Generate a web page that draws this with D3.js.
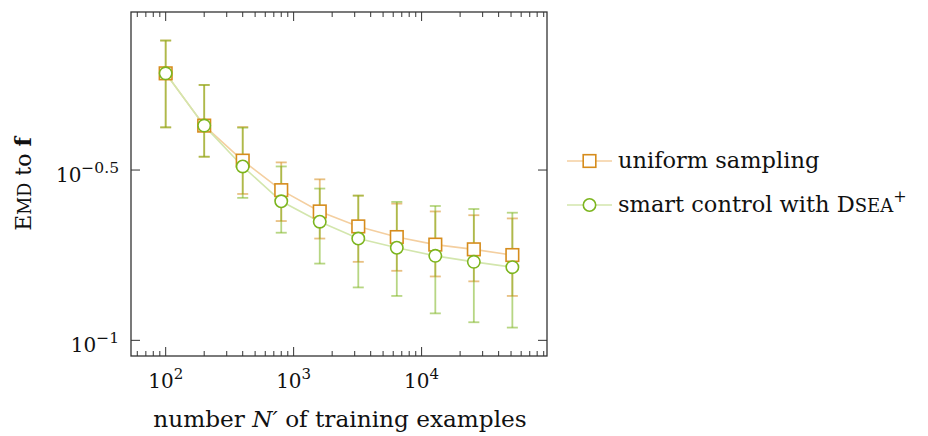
<!DOCTYPE html>
<html>
<head>
<meta charset="utf-8">
<script src="https://cdn.jsdelivr.net/npm/d3@7"></script>
<style>
  html, body { margin: 0; padding: 0; background: #fff; }
  svg { display: block; }
  text { font-family: "DejaVu Serif", "Liberation Serif", serif; fill: #111; }
</style>
</head>
<body>
<svg id="chart" width="928" height="436"></svg>
<script>
// Training set sizes N'
const nValues = [100, 200, 400, 800, 1600, 3200, 6400, 12800, 25600, 51200];

// EMD to f, uniform sampling: mean and error-bar bounds
const uniformMean  = [0.608, 0.427, 0.337, 0.276, 0.239, 0.216, 0.201, 0.191, 0.185, 0.178];
const uniformUpper = [0.759, 0.562, 0.423, 0.333, 0.297, 0.266, 0.252, 0.239, 0.233, 0.228];
const uniformLower = [0.422, 0.346, 0.269, 0.224, 0.199, 0.170, 0.160, 0.154, 0.149, 0.135];

// EMD to f, smart control with DSEA+: mean and error-bar bounds
const smartMean  = [0.608, 0.427, 0.324, 0.256, 0.223, 0.199, 0.187, 0.177, 0.170, 0.164];
const smartUpper = [0.759, 0.562, 0.421, 0.324, 0.279, 0.266, 0.255, 0.248, 0.243, 0.237];
const smartLower = [0.422, 0.346, 0.262, 0.207, 0.168, 0.143, 0.135, 0.120, 0.113, 0.109];

// Axis ticks (as exponents of ten)
const xTickExps = [2, 3, 4];
const yTickExps = ["-1", "-0.5"];
const yTickVals = [0.1, Math.pow(10, -0.5)];

const seriesNames = ["uniform sampling", "smart control with DSEA"];

const orange = "#d68c1c";
const green = "#7cb51e";

const svg = d3.select("#chart");
const plotL = 131, plotR = 547, plotT = 12, plotB = 356;

const x = d3.scaleLog().domain([Math.pow(10, 1.729), Math.pow(10, 4.980)]).range([plotL, plotR]);
const y = d3.scaleLog().domain([Math.pow(10, -1.046), Math.pow(10, -0.036)]).range([plotB, plotT]);

// small caps: first letter full size, the rest as reduced capitals
function smallCaps(t, word, size) {
  t.append("tspan").text(word[0]);
  t.append("tspan").attr("font-size", size * 0.8).text(word.slice(1).toUpperCase());
}

// ticks: major and minor on x (mirrored top/bottom), major on y (mirrored left/right)
const tickG = svg.append("g").attr("stroke", "#333").attr("stroke-width", 1);
const minorX = [];
for (let d = 10; d <= 100000; d *= 10) {
  for (let k = 2; k <= 9; k++) {
    const v = d * k;
    if (v > x.domain()[0] && v < x.domain()[1]) minorX.push(v);
  }
}
minorX.forEach(v => {
  tickG.append("line").attr("x1", x(v)).attr("x2", x(v)).attr("y1", plotB).attr("y2", plotB - 5);
  tickG.append("line").attr("x1", x(v)).attr("x2", x(v)).attr("y1", plotT).attr("y2", plotT + 5);
});
xTickExps.forEach(e => {
  const v = Math.pow(10, e);
  tickG.append("line").attr("x1", x(v)).attr("x2", x(v)).attr("y1", plotB).attr("y2", plotB - 9);
  tickG.append("line").attr("x1", x(v)).attr("x2", x(v)).attr("y1", plotT).attr("y2", plotT + 9);
});
yTickVals.forEach(v => {
  tickG.append("line").attr("x1", plotL).attr("x2", plotL + 9).attr("y1", y(v)).attr("y2", y(v));
  tickG.append("line").attr("x1", plotR).attr("x2", plotR - 9).attr("y1", y(v)).attr("y2", y(v));
});

// tick labels
xTickExps.forEach(e => {
  const t = svg.append("text").attr("x", x(Math.pow(10, e))).attr("y", 388)
    .attr("text-anchor", "middle").attr("font-size", 20);
  t.append("tspan").text("10");
  t.append("tspan").attr("dy", -9).attr("font-size", 15).text(e);
});
yTickVals.forEach((v, i) => {
  const t = svg.append("text").attr("x", 119).attr("y", y(v) + 12)
    .attr("text-anchor", "end").attr("font-size", 20);
  t.append("tspan").text("10");
  t.append("tspan").attr("dy", -9).attr("font-size", 15.5).text(yTickExps[i].replace("-", "\u2212"));
});

// axis labels
const xl = svg.append("text").attr("x", 340).attr("y", 427).attr("text-anchor", "middle").attr("font-size", 23.2);
xl.append("tspan").text("number ");
xl.append("tspan").attr("font-style", "italic").text("N\u2032");
xl.append("tspan").text(" of training examples");

const yl = svg.append("text").attr("transform", "translate(31,184) rotate(-90)")
  .attr("text-anchor", "middle").attr("font-size", 22);
smallCaps(yl, "EMD", 22);
yl.append("tspan").text(" to ");
yl.append("tspan").attr("font-weight", "bold").text("f");

// series drawing
const series = [
  { mean: uniformMean, upper: uniformUpper, lower: uniformLower, color: orange, line: "#f4cfa0", shape: "square" },
  { mean: smartMean, upper: smartUpper, lower: smartLower, color: green, line: "#d3e6ad", shape: "circle" }
];

const lineGen = d3.line().x(d => x(d[0])).y(d => y(d[1]));

// connecting lines
series.forEach(s => {
  svg.append("path").datum(nValues.map((n, i) => [n, s.mean[i]]))
    .attr("d", lineGen).attr("fill", "none").attr("stroke", s.line).attr("stroke-width", 1.6);
});

// error bars
series.forEach(s => {
  const g = svg.append("g").attr("stroke", s.color).attr("stroke-opacity", 0.55).attr("stroke-width", 1.8);
  nValues.forEach((n, i) => {
    const cx = x(n);
    g.append("line").attr("x1", cx).attr("x2", cx).attr("y1", y(s.upper[i])).attr("y2", y(s.lower[i]));
    g.append("line").attr("x1", cx - 5.5).attr("x2", cx + 5.5).attr("y1", y(s.upper[i])).attr("y2", y(s.upper[i]));
    g.append("line").attr("x1", cx - 5.5).attr("x2", cx + 5.5).attr("y1", y(s.lower[i])).attr("y2", y(s.lower[i]));
  });
});

// markers
function drawMarker(g, shape, cx, cy, color) {
  if (shape === "square") {
    g.append("rect").attr("x", cx - 6.3).attr("y", cy - 6.3).attr("width", 12.6).attr("height", 12.6)
      .attr("fill", "#fff").attr("stroke", color).attr("stroke-width", 1.6);
  } else {
    g.append("circle").attr("cx", cx).attr("cy", cy).attr("r", 6.2)
      .attr("fill", "#fff").attr("stroke", color).attr("stroke-width", 1.6);
  }
}
series.forEach(s => {
  const g = svg.append("g");
  nValues.forEach((n, i) => drawMarker(g, s.shape, x(n), y(s.mean[i]), s.color));
});

// frame
svg.append("rect").attr("x", plotL).attr("y", plotT).attr("width", plotR - plotL).attr("height", plotB - plotT)
  .attr("fill", "none").attr("stroke", "#333").attr("stroke-width", 1.3);

// legend
const legendY = [161, 205];
series.forEach((s, i) => {
  const g = svg.append("g");
  g.append("line").attr("x1", 567).attr("x2", 612).attr("y1", legendY[i]).attr("y2", legendY[i])
    .attr("stroke", s.line).attr("stroke-width", 1.6);
  drawMarker(g, s.shape, 589.5, legendY[i], s.color);
  const t = g.append("text").attr("x", 618).attr("y", legendY[i] + 6.5).attr("font-size", 22.5);
  if (i === 0) {
    t.text(seriesNames[0]);
  } else {
    t.append("tspan").text("smart control with ");
    smallCaps(t, "DSEA", 22.5);
    t.append("tspan").attr("dy", -10).attr("font-size", 16).text("+");
  }
});
</script>
</body>
</html>
